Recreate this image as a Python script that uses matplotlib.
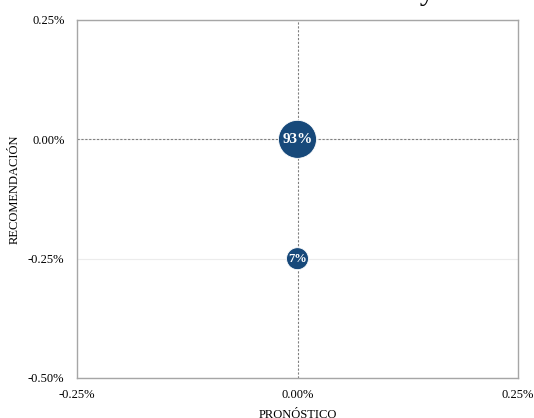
import matplotlib
matplotlib.use("Agg")
import matplotlib.pyplot as plt
from matplotlib.ticker import FuncFormatter

plt.rcParams['font.family'] = ['Liberation Serif', 'DejaVu Serif']

# Bubble data: position (pronóstico, recomendación) in percent and share
pronostico = [0.0, 0.0]
recomendacion = [0.0, -0.25]
participacion = [93, 7]
etiquetas = ["93%", "7%"]

x_ticks = [-0.25, 0.0, 0.25]
y_ticks = [-0.50, -0.25, 0.0, 0.25]

titulo = "Gráfico de Evaluación de Miedo y Oferta"

color_burbuja = "#17497A"

W, H = 534, 418
fig = plt.figure(figsize=(W / 100, H / 100), dpi=100)
left, right, top, bottom = 77, 518, 20, 378
ax = fig.add_axes([left / W, 1 - bottom / H, (right - left) / W, (bottom - top) / H])

ax.set_xlim(-0.25, 0.25)
ax.set_ylim(-0.50, 0.25)
ax.set_xticks(x_ticks)
ax.set_yticks(y_ticks)
fmt = FuncFormatter(lambda v, _: f"{v:.2f}%")
ax.xaxis.set_major_formatter(fmt)
ax.yaxis.set_major_formatter(fmt)
ax.tick_params(length=0, labelsize=9, colors="black")
ax.tick_params(axis="x", pad=8)
ax.tick_params(axis="y", pad=9)

# faint horizontal gridlines
for yv in y_ticks:
    ax.axhline(yv, color="#ececec", lw=0.8, zorder=0)

# crossing axes at zero
ax.axhline(0, color="#808080", lw=0.8, ls=(0, (2, 1.5)), zorder=1)
ax.axvline(0, color="#808080", lw=0.8, ls=(0, (2, 1.5)), zorder=1)

for sp in ax.spines.values():
    sp.set_color("#a6a6a6")
    sp.set_linewidth(1.0)

# bubble area scaled from the share
smin, smax = 250, 750
pmin, pmax = min(participacion), max(participacion)
sizes = [smin + (smax - smin) * (p - pmin) / (pmax - pmin) for p in participacion]

ax.scatter(pronostico, recomendacion, s=sizes, color=color_burbuja,
           edgecolors="white", linewidths=0.6, zorder=3, clip_on=False)

fsz = [11, 9]
for xv, yv, lab, fs in zip(pronostico, recomendacion, etiquetas, fsz):
    ax.text(xv, yv, lab, ha="center", va="center", color="white",
            fontsize=fs, fontweight="bold", zorder=4)

ax.set_xlabel("PRONÓSTICO", fontsize=9)
ax.xaxis.set_label_coords(0.5, (bottom - 409) / (bottom - top))
ax.xaxis.label.set_va("top")

ax.set_ylabel("RECOMENDACIÓN", fontsize=9)
ax.yaxis.set_label_coords((15 - left) / (right - left), (bottom - 189) / (bottom - top))
ax.yaxis.label.set_va("center")

fig.text(0.5, 1.0 + 9 / H, titulo, ha="center", va="center", fontsize=22)

fig.savefig("out.png", dpi=100)
